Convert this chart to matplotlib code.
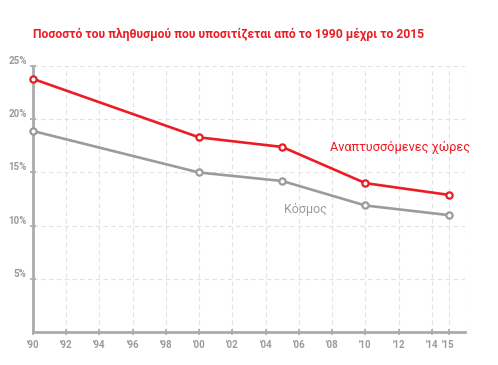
import matplotlib.pyplot as plt

# data
years = [1990, 2000, 2005, 2010, 2015]
developing = [23.8, 18.3, 17.4, 14.0, 12.9]
world = [18.9, 15.0, 14.2, 11.9, 11.0]

xticks = [1990, 1992, 1994, 1996, 1998, 2000, 2002, 2004, 2006, 2008, 2010, 2012, 2014, 2015]
xlabels = ["'90", "'92", "'94", "'96", "'98", "'00", "'02", "'04", "'06", "'08", "'10", "'12", "'14", "'15"]
yticks = [5, 10, 15, 20, 25]
ylabels = ["5%", "10%", "15%", "20%", "25%"]

title = "Ποσοστό του πληθυσμού που υποσιτίζεται από το 1990 μέχρι το 2015"

red = '#ec1c24'
gray = '#9b9b9b'
axis_col = '#ababab'

plt.rcParams['font.family'] = ['Roboto', 'DejaVu Sans']

fig = plt.figure(figsize=(4.98, 3.65), dpi=100)
ax = fig.add_axes([0.066, 0.09, 0.868, 0.729])

ax.plot(years, developing, color=red, lw=1.9, marker='o', ms=4.5,
        mfc='white', mec=red, mew=1.6, zorder=4, clip_on=False)
ax.plot(years, world, color=gray, lw=1.9, marker='o', ms=4.5,
        mfc='white', mec=gray, mew=1.6, zorder=3, clip_on=False)

ax.set_xlim(1990, 2016)
ax.set_ylim(0, 25)

ax.set_xticks(xticks)
ax.set_xticklabels(xlabels, fontsize=7, color=gray, fontweight='bold')
ax.set_yticks(yticks)
ax.set_yticklabels(ylabels, fontsize=7, color=gray, fontweight='bold', va='bottom')
ax.tick_params(axis='both', direction='inout', length=5, width=1.2, color=axis_col)
ax.tick_params(axis='x', pad=3)
ax.tick_params(axis='y', pad=2)

ax.grid(True, ls=(0, (4, 3)), color='#e2e2e2', lw=0.8)
ax.axvline(2016, ls=(0, (4, 3)), color='#e2e2e2', lw=0.8)

for s in ['top', 'right']:
    ax.spines[s].set_visible(False)
for s in ['left', 'bottom']:
    ax.spines[s].set_color(axis_col)
    ax.spines[s].set_linewidth(2)

ax.text(2007.9, 17.4, "Αναπτυσσόμενες χώρες", color=red, fontsize=9.2, va='center')
ax.text(2005.1, 11.5, "Κόσμος", color=gray, fontsize=9, va='center')

fig.text(0.066, 0.905, title, color=red, fontsize=8.7, fontweight='bold', va='center')

fig.savefig('out.png', dpi=100)
